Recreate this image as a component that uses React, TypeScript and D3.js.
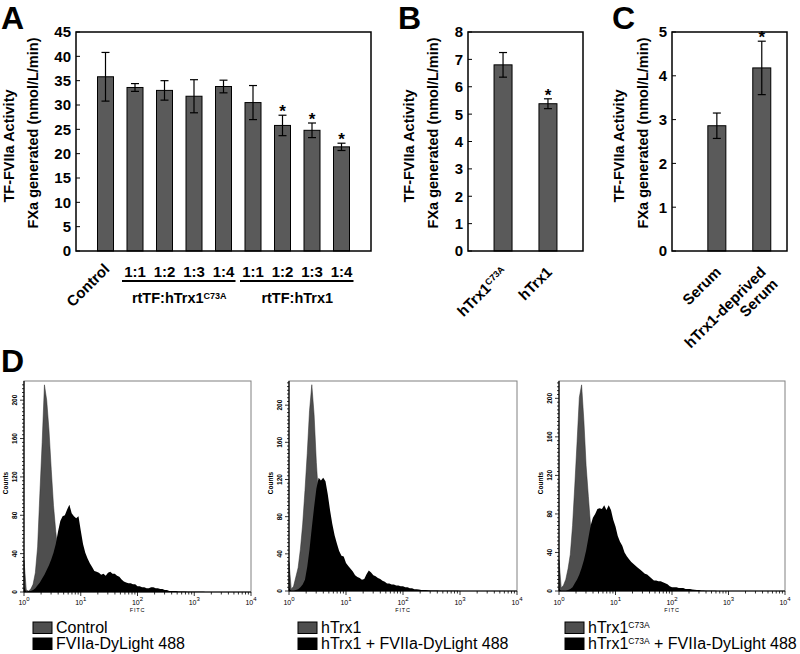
import React from 'react'
import * as d3 from 'd3'

const FONT = '"Liberation Sans", Arial, Helvetica, sans-serif'

// A: rtTF mixed with hTrx1 mutant / wild type
const ratioLabels = ['Control', '1:1', '1:2', '1:3', '1:4', '1:1', '1:2', '1:3', '1:4']
const ratioMeans = [35.8, 33.6, 33.0, 31.8, 33.8, 30.5, 25.8, 24.8, 21.4]
const ratioErrors = [5.0, 0.8, 2.0, 3.4, 1.3, 3.5, 2.1, 1.5, 0.75]
const ratioStars = [false, false, false, false, false, false, true, true, true]
const ratioGroups = ['rtTF:hTrx1^C73A', 'rtTF:hTrx1']

// B
const mutantLabels = ['hTrx1^C73A', 'hTrx1']
const mutantMeans = [6.8, 5.38]
const mutantErrors = [0.45, 0.18]
const mutantStars = [false, true]

// C
const serumLabels = ['Serum', 'hTrx1-deprived\nSerum']
const serumMeans = [2.86, 4.18]
const serumErrors = [0.29, 0.61]
const serumStars = [false, true]

// D: flow histograms, one value per 0.04 decade starting at 10^0
const logStep = 0.04
const controlGray = [33, 2, 1, 3, 8, 20, 47, 103, 156, 216, 200, 169, 128, 90, 63, 40, 24, 13, 6, 2, 0]
const controlBlack = [5, 0, 1, 1, 2, 4, 7, 10, 14, 18, 23, 28, 34, 41, 50, 63, 74, 79, 80, 86, 91, 82, 79, 77, 79, 64, 50, 41, 35, 30, 26, 22, 21, 20, 18, 19, 17, 20, 21, 19, 19, 17, 16, 13, 11, 10, 9, 9, 8, 8, 6, 6, 5, 5, 4, 4, 5, 5, 4, 4, 3, 3, 2, 2, 1, 1, 1, 1, 0.5, 0.5, 0.5, 0.5, 0.3, 0.3, 0.3, 0.3, 0.3, 0.2, 0.2, 0.2, 0]
const wildGray = [31, 2, 5, 15, 25, 45, 72, 108, 148, 194, 222, 190, 138, 100, 70, 45, 26, 14, 7, 3, 1, 0]
const wildBlack = [3, 0, 0, 1, 2, 4, 7, 12, 26, 45, 68, 90, 110, 122, 119, 122, 118, 104, 87, 72, 60, 51, 43, 38, 37, 30, 27, 24, 21, 17, 15, 14, 12, 13, 18, 22, 20, 17, 16, 14, 13, 11, 10, 8, 8, 7, 7, 6, 6, 5, 5, 4, 4, 3, 3, 2, 2, 1.5, 1, 1, 1, 0.8, 0.5, 0.5, 0.5, 0.5, 0.3, 0.3, 0.3, 0.3, 0.3, 0.2, 0.2, 0.2, 0.2, 0]
const mutantGray = [32, 3, 6, 12, 23, 38, 68, 110, 155, 201, 214, 177, 130, 98, 67, 42, 24, 12, 6, 2, 0]
const mutantBlack = [2, 0, 0, 0, 1, 2, 4, 8, 12, 17, 24, 32, 42, 55, 68, 76, 80, 85, 86, 85, 89, 84, 89, 84, 74, 67, 57, 51, 47, 40, 36, 33, 30, 28, 26, 24, 22, 20, 18, 17, 15, 13, 11, 11, 10, 10, 9, 8, 7, 5, 4, 4, 4, 3, 3, 3, 2, 2, 2, 1.5, 1.2, 1, 1, 0.5, 0.5, 0.3, 0.3, 0.3, 0.2, 0.2, 0]
const histLegends = [
  ['Control', 'FVIIa-DyLight 488'],
  ['hTrx1', 'hTrx1 + FVIIa-DyLight 488'],
  ['hTrx1^C73A', 'hTrx1^C73A^ + FVIIa-DyLight 488'],
]

const BAR_FILL = '#5a5a5a'
const HIST_GRAY = '#4e4e4e'

// text with ^superscript^ parts
const rich = (text: string, supSize: number, shift: number) =>
  text.split('^').map((p, i) =>
    i % 2 ? (
      <tspan key={i} fontSize={supSize} dy={-shift}>{p}</tspan>
    ) : (
      <tspan key={i} dy={i > 0 ? shift : 0}>{p}</tspan>
    )
  )

function pointScale(n: number, left: number, right: number, padding: number, align: number) {
  return d3.scalePoint<number>().domain(d3.range(n)).range([left, right]).padding(padding).align(align)
}

function BarPanel({ x, left, right, top, bottom, yMax, means, errors, stars, barWidth, titleX }) {
  const y = d3.scaleLinear().domain([0, yMax]).range([bottom, top])
  const cap = 4
  return (
    <g>
      {y.ticks(yMax > 10 ? 9 : yMax).map(t => (
        <g key={t}>
          <line x1={left} x2={left + 4} y1={y(t)} y2={y(t)} stroke="#000" strokeWidth={1} />
          <text x={left - 5} y={y(t)} dy="0.36em" textAnchor="end" fontSize={15} fontWeight="bold">{t}</text>
        </g>
      ))}
      {means.map((m, i) => {
        const cx = x(i)!
        const yt = y(m + errors[i])
        const yb = y(m - errors[i])
        return (
          <g key={i}>
            <rect x={cx - barWidth / 2} y={y(m)} width={barWidth} height={bottom - y(m)} fill={BAR_FILL} stroke="#000" strokeWidth={1} />
            <line x1={cx} x2={cx} y1={yt} y2={yb} stroke="#000" strokeWidth={1.2} />
            <line x1={cx - cap} x2={cx + cap} y1={yt} y2={yt} stroke="#000" strokeWidth={1.2} />
            <line x1={cx - cap} x2={cx + cap} y1={yb} y2={yb} stroke="#000" strokeWidth={1.2} />
            {stars[i] && (
              <text x={cx} y={yt + 2} textAnchor="middle" fontSize={17} fontWeight="bold">*</text>
            )}
          </g>
        )
      })}
      <rect x={left} y={top} width={right - left} height={bottom - top} fill="none" stroke="#000" strokeWidth={1.5} />
      <text transform={`translate(${titleX},146) rotate(-90)`} textAnchor="middle" fontSize={14.5} fontWeight="bold">TF-FVIIa Activity</text>
      <text transform={`translate(${titleX + 24},133) rotate(-90)`} textAnchor="middle" fontSize={14.5} fontWeight="bold">FXa generated (nmol/L/min)</text>
    </g>
  )
}

function RotatedLabels({ labels, x }) {
  return (
    <g>
      {labels.map((lab, i) => (
        <text key={i} transform={`translate(${x(i) + 5},273) rotate(-45)`} textAnchor="end" fontSize={15} fontWeight="bold">
          {lab.split('\n').map((line, j) => (
            <tspan key={j} x={0} y={j * 17}>{rich(line, 9, 4.5)}</tspan>
          ))}
        </text>
      ))}
    </g>
  )
}

function Histogram({ left, right, top, bottom, yMax, gray, black, legend, legendX }) {
  const x = d3.scaleLog().domain([1, 1e4]).range([left, right])
  const y = d3.scaleLinear().domain([0, yMax]).range([bottom, top])
  const area = d3
    .area<number>()
    .x((_, i) => x(Math.pow(10, i * logStep)))
    .y0(bottom)
    .y1(d => y(d))
  const xTicks = x.ticks()
  const isDecade = (t: number) => Math.abs(Math.log10(t) - Math.round(Math.log10(t))) < 1e-9
  const minorY = d3.range(0, yMax, 4)
  const majorY = d3.range(0, yMax, 40)
  return (
    <g>
      <rect x={left} y={top} width={right - left} height={bottom - top} fill="none" stroke="#808080" strokeWidth={1} />
      <path d={area(gray)!} fill={HIST_GRAY} stroke="#2a2a2a" strokeWidth={0.5} />
      <path d={area(black)!} fill="#000" />
      <line x1={left} x2={left} y1={top} y2={bottom} stroke="#000" strokeWidth={1.2} />
      <line x1={left} x2={right} y1={bottom} y2={bottom} stroke="#000" strokeWidth={1.2} />
      {minorY.map(t => (
        <line key={t} x1={left - (t % 40 === 0 ? 4 : 2)} x2={left} y1={y(t)} y2={y(t)} stroke="#000" strokeWidth={0.8} />
      ))}
      {majorY.map(t => (
        <text key={t} transform={`translate(${left - 7.5},${y(t)}) rotate(-90)`} textAnchor="middle" fontSize={6.5} fontWeight="bold">{t}</text>
      ))}
      <text transform={`translate(${left - 16},483) rotate(-90)`} textAnchor="middle" fontSize={6.5} fontWeight="bold">Counts</text>
      {xTicks.map((t, i) => (
        <line key={i} x1={x(t)} x2={x(t)} y1={bottom} y2={bottom + (isDecade(t) ? 4 : 2.5)} stroke="#000" strokeWidth={0.8} />
      ))}
      {xTicks.filter(isDecade).map(t => (
        <text key={t} x={x(t)} y={605} textAnchor="middle" fontSize={7}>
          10<tspan fontSize={6} dy={-4}>{Math.round(Math.log10(t))}</tspan>
        </text>
      ))}
      <text x={(left + right) / 2} y={612} textAnchor="middle" fontSize={5.5} letterSpacing={0.8}>FITC</text>
      {legend.map((name, i) => (
        <g key={i}>
          <rect x={legendX} y={622 + i * 16} width={19} height={11.5} fill={i === 0 ? HIST_GRAY : '#000'} stroke="#000" strokeWidth={1} />
          <text x={legendX + 23} y={633 + i * 16} fontSize={16}>{rich(name, 8.5, 5.4)}</text>
        </g>
      ))}
    </g>
  )
}

export default function App() {
  const xA = pointScale(ratioLabels.length, 76, 371, 1, 0.5)
  const xB = pointScale(mutantLabels.length, 468, 583, 0.78, 0.5)
  const xC = pointScale(serumLabels.length, 672, 787, 0.78, 0.64)
  const groups = [
    [1, 4],
    [5, 8],
  ]
  return (
    <svg width={800} height={654} style={{ position: 'absolute', left: 0, top: 0, background: '#fff' }} fontFamily={FONT}>
      <rect width={800} height={654} fill="#fff" />
      {/* panel letters */}
      <text x={1} y={29} fontSize={32} fontWeight="bold">A</text>
      <text x={398} y={29} fontSize={32} fontWeight="bold">B</text>
      <text x={612} y={29} fontSize={32} fontWeight="bold">C</text>
      <text x={1} y={372} fontSize={32} fontWeight="bold">D</text>

      <BarPanel x={xA} left={76} right={371} top={32} bottom={251} yMax={45} means={ratioMeans} errors={ratioErrors} stars={ratioStars} barWidth={16} titleX={13.5} />
      <text transform={`translate(${xA(0)! + 5},270) rotate(-45)`} textAnchor="end" fontSize={15} fontWeight="bold">{ratioLabels[0]}</text>
      {ratioLabels.slice(1).map((lab, i) => (
        <text key={i} x={xA(i + 1)} y={277} textAnchor="middle" fontSize={15} fontWeight="bold">{lab}</text>
      ))}
      {groups.map(([a, b], g) => (
        <g key={g}>
          <line x1={xA(a)! - 13} x2={xA(b)! + 12} y1={281} y2={281} stroke="#000" strokeWidth={2} />
          <text x={(xA(a)! + xA(b)!) / 2} y={303} textAnchor="middle" fontSize={14.5} fontWeight="bold">{rich(ratioGroups[g], 9, 4.5)}</text>
        </g>
      ))}

      <BarPanel x={xB} left={468} right={583} top={32} bottom={251} yMax={8} means={mutantMeans} errors={mutantErrors} stars={mutantStars} barWidth={18} titleX={413.5} />
      <RotatedLabels labels={mutantLabels} x={xB} />

      <BarPanel x={xC} left={672} right={787} top={32} bottom={251} yMax={5} means={serumMeans} errors={serumErrors} stars={serumStars} barWidth={18} titleX={623.5} />
      <RotatedLabels labels={serumLabels} x={xC} />

      <Histogram left={24} right={251} top={381} bottom={592} yMax={220} gray={controlGray} black={controlBlack} legend={histLegends[0]} legendX={33} />
      <Histogram left={289} right={517} top={381} bottom={591} yMax={226} gray={wildGray} black={wildBlack} legend={histLegends[1]} legendX={298} />
      <Histogram left={559} right={785} top={381} bottom={591} yMax={218} gray={mutantGray} black={mutantBlack} legend={histLegends[2]} legendX={565} />
    </svg>
  )
}
